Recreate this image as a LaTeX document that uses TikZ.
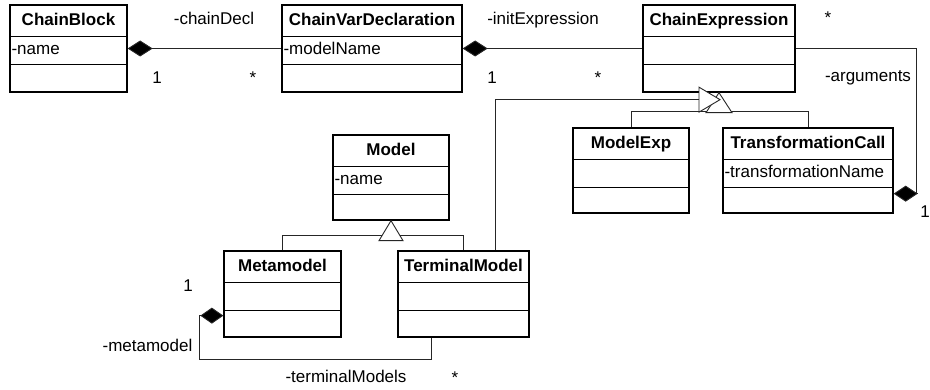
\documentclass[tikz,border=0pt]{standalone}
\usepackage{fontspec}
\setmainfont{Liberation Sans}
\usetikzlibrary{arrows.meta}

\tikzset{
  classbox/.style={draw=black, line width=1.3pt, inner sep=0pt, fill=white},
  classline/.style={draw=black, line width=1.3pt},
  titletext/.style={inner sep=0pt, anchor=base, font=\fontsize{17}{20}\selectfont\bfseries},
  attrtext/.style={inner sep=0pt, anchor=base west, font=\fontsize{17}{20}\selectfont},
  lbl/.style={inner sep=0pt, anchor=base, font=\fontsize{17}{20}\selectfont},
  conn/.style={draw=black!85, line width=0.9pt},
  comp/.style={conn, {Diamond[length=25pt,width=16pt,fill=black]}-},
  genhead/.style={conn, fill=white, line join=miter},
}

% class box: name, x1, y1, x2, y2, title, attribute
\newcommand\umlclass[7]{%
  \node[classbox, minimum width={#4-#2}, minimum height={#5-#3}]
    (#1) at ({(#2+#4)/2},{(#3+#5)/2}) {};
  \draw[classline] ([yshift=-32pt]#1.north west) -- ([yshift=-32pt]#1.north east);
  \draw[classline] ([yshift=-60pt]#1.north west) -- ([yshift=-60pt]#1.north east);
  \node[titletext] (#1-t) at ([yshift=-21.5pt]#1.north) {#6};
  \node[attrtext] (#1-a) at ([xshift=2pt,yshift=-50pt]#1.north west) {#7};
}

\begin{document}
\begin{tikzpicture}[x=1pt,y=-1pt]
\useasboundingbox (0,0) rectangle (930,390);

% classes
\umlclass{block}{10}{5}{127}{92}{ChainBlock}{-name}
\umlclass{decl}{282}{5}{462}{92}{ChainVarDeclaration}{-modelName}
\umlclass{expr}{643}{5}{795}{92}{ChainExpression}{}
\umlclass{mexp}{573}{128}{689}{213}{ModelExp}{}
\umlclass{tcall}{723}{128}{893}{213}{TransformationCall}{-transformationName}
\umlclass{model}{333}{135}{449}{220}{Model}{-name}
\umlclass{meta}{224}{251}{341}{337}{Metamodel}{}
\umlclass{tm}{398}{251}{529}{337}{TerminalModel}{}

% compositions
\draw[comp] (block.east) -- (decl.west);
\draw[comp] (decl.east) -- (expr.west);

\coordinate (argA) at ([yshift=20pt]tcall.south east);
\draw[conn, {Diamond[length=24pt,width=16pt,fill=black]}-]
  (argA) -- ++(23,0) |- (expr.east);

\coordinate (mmA) at ([yshift=22pt]meta.south west);
\draw[conn, {Diamond[length=23pt,width=16pt,fill=black]}-]
  (mmA) -- ++(-24,0) -- ++(0,44) -| ([xshift=-32.5pt]tm.south);

% generalization: Metamodel, TerminalModel -> Model
\coordinate (mbus) at ([yshift=-15pt]model.south);
\draw[conn] (meta.north) |- (mbus) -| (tm.north);
\draw[genhead] (model.south) -- ++(12,20) -- ++(-24,0) -- cycle;

% generalization: ModelExp, TransformationCall -> ChainExpression
\coordinate (ebus) at ([yshift=-19pt]expr.south);
\draw[conn] (mexp.north) |- (ebus) -| (tcall.north);
\draw[genhead] (expr.south) -- ++(13,20) -- ++(-26,0) -- cycle;

% generalization: TerminalModel -> ChainExpression
\coordinate (tmTip) at ([xshift=1pt,yshift=-7pt]expr.south);
\draw[conn] ([xshift=32pt]tm.north) |- ([xshift=-21pt]tmTip);
\draw[genhead] (tmTip) -- ++(-21,-12.5) -- ++(0,25) -- cycle;

% role names and multiplicities
\node[lbl] (l-chainDecl) at (214,24.5) {-chainDecl};
\node[lbl] (m-block) at (157,83.5) {1};
\node[lbl] (m-decl) at (253,83.5) {*};
\node[lbl] (l-init) at (543,24.5) {-initExpression};
\node[lbl] (m-decl2) at (492,83.5) {1};
\node[lbl] (m-expr) at (598,83.5) {*};
\node[lbl] (m-args) at (828,24) {*};
\node[lbl] (l-args) at (868,82) {-arguments};
\node[lbl, anchor=base east] (m-tcall) at (930,218) {1};
\node[lbl] (m-meta) at (188,292) {1};
\node[lbl] (l-meta) at (147.5,352) {-metamodel};
\node[lbl] (l-tms) at (346,382) {-terminalModels};
\node[lbl] (m-tms) at (455,383) {*};
\end{tikzpicture}
\end{document}
